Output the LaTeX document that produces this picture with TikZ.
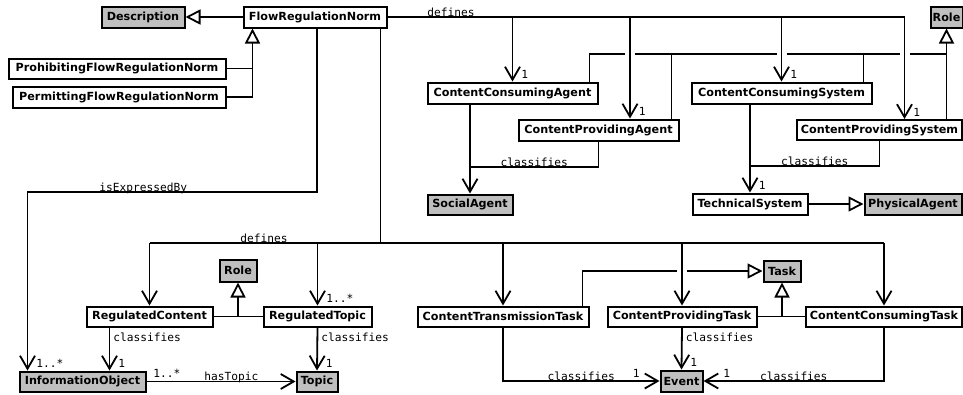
\documentclass[tikz,border=0pt]{standalone}
\usepackage{fontspec}
\setmainfont{DejaVu Sans}
\setmonofont{DejaVu Sans Mono}
\usetikzlibrary{arrows.meta}

\tikzset{
  cls/.style={draw, line width=2pt, fill=white, inner sep=0pt,
    font=\fontsize{11.2}{13}\selectfont\bfseries},
  ext/.style={cls, fill=black!25},
  sz/.style 2 args={minimum width=#1pt, minimum height=#2pt},
  conn/.style={line width=1.8pt, line join=miter},
  assoc/.style={conn, -{Straight Barb[length=13pt,width=15pt]}},
  gen/.style={conn, -{Triangle[open,length=15pt,width=15pt,fill=white]}},
  lbl/.style={font=\fontsize{11.2}{13}\selectfont\ttfamily, inner sep=0pt},
  onl/.style={lbl, anchor=base, yshift=1pt},
  side/.style={lbl, at start, anchor=north west, xshift=3pt, yshift=-5pt},
  mult/.style={lbl, at end, anchor=south west, xshift=8pt, yshift=2pt},
  knock/.style={draw=white, line width=5pt},
}

\begin{document}
\begin{tikzpicture}[x=1pt, y=-1pt]
\useasboundingbox (0,0) rectangle (963,394);

% ---- classes
\node[ext, sz={83}{21}]  (desc)  at (143,17)    {Description};
\node[cls, sz={143}{21}] (frn)   at (315,17)    {FlowRegulationNorm};
\node[cls, sz={217}{20}] (pfrn)  at (117,68.5)  {ProhibitingFlowRegulationNorm};
\node[cls, sz={213}{21}] (perm)  at (119,97)    {PermittingFlowRegulationNorm};
\node[ext, sz={32}{21}]  (role1) at (946.5,17)  {Role};

\node[cls, sz={170}{21}] (cca)   at (512.5,93)  {ContentConsumingAgent};
\node[cls, sz={180}{21}] (ccs)   at (781.5,93)  {ContentConsumingSystem};
\node[cls, sz={160}{21}] (cpa)   at (598.5,130) {ContentProvidingAgent};
\node[cls, sz={165}{20}] (cps)   at (879.5,130) {ContentProvidingSystem};
\node[ext, sz={85}{20}]  (sa)    at (470,204.5) {SocialAgent};
\node[cls, sz={115}{21}] (ts)    at (750,204)   {TechnicalSystem};
\node[ext, sz={97}{21}]  (pa)    at (913,204)   {PhysicalAgent};

\node[cls, sz={126}{20}] (rc)    at (149.5,316.5) {RegulatedContent};
\node[cls, sz={108}{20}] (rt)    at (317.5,316.5) {RegulatedTopic};
\node[ext, sz={37}{22}]  (role2) at (238,270.5)   {Role};
\node[cls, sz={171}{20}] (ctt)   at (503,316.5)   {ContentTransmissionTask};
\node[cls, sz={149}{20}] (cpt)   at (682,316.5)   {ContentProvidingTask};
\node[cls, sz={156}{20}] (cct)   at (884,316.5)   {ContentConsumingTask};
\node[ext, sz={37}{21}]  (task)  at (782,271)     {Task};
\node[ext, sz={126}{20}] (io)    at (82.5,381.5)  {InformationObject};
\node[ext, sz={41}{20}]  (topic) at (317,381.5)   {Topic};
\node[ext, sz={42}{21}]  (event) at (681.5,381)   {Event};

% ---- helper points
\coordinate (gx)   at ([xshift=10pt]frn.south west);
\coordinate (dCPA) at ([xshift=31.5pt]cpa.north);
\coordinate (dCPS) at ([xshift=25pt]cps.north);
\coordinate (rbY)  at (0,54);
\coordinate (rCCA) at ([xshift=-9pt]cca.north east);
\coordinate (rCPA) at ([xshift=-8pt]cpa.north east);
\coordinate (rCCS) at ([xshift=-9pt]ccs.north east);
\coordinate (rCPS) at (role1.south |- cps.north);
\coordinate (yA)   at (0,167);
\coordinate (yB)   at (0,166);
\coordinate (yC)   at (0,192);
\coordinate (yD)   at (0,243);
\coordinate (fS)   at ([xshift=2pt]frn.south);
\coordinate (fS2)  at ([xshift=-7pt]frn.south east);
\coordinate (ioT)  at ([xshift=9pt]io.north west);
\coordinate (rcS)  at ([xshift=-40pt]rc.south);
\coordinate (cttT) at ([xshift=-7pt]ctt.north east);

% ---- FlowRegulationNorm hierarchy
\draw[gen] (frn.west) -- (desc.east);
\draw[gen] (perm.east) -| (gx);
\draw[conn] (pfrn.east) -- (pfrn.east -| gx);

% ---- agent / system roles
\draw[conn] (rCCA) |- (role1.south |- rbY);
\draw[gen] (rCPS) -- (role1.south);
\draw[conn] (rCPA) -- (rCPA |- rbY);
\draw[conn] (rCCS) -- (rCCS |- rbY);
\coordinate (k1) at (dCPA |- rbY);
\coordinate (k2) at (ccs.north |- rbY);
\coordinate (k3) at (dCPS |- rbY);
\foreach \k in {k1,k2,k3}
  \draw[knock] ([xshift=-5pt]\k) -- ([xshift=5pt]\k);

\draw[conn] (frn.east) -- (dCPS |- frn.east) node[onl, pos=0.123] {defines};
\draw[assoc] (cca.north |- frn.east) -- (cca.north) node[mult] {1};
\draw[assoc] (dCPA |- frn.east) -- (dCPA) node[mult] {1};
\draw[assoc] (ccs.north |- frn.east) -- (ccs.north) node[mult] {1};
\draw[assoc] (dCPS |- frn.east) -- (dCPS) node[mult] {1};

\draw[assoc] (sa.north |- cca.south) -- (sa.north);
\draw[conn] (cpa.south) |- (sa.north |- yA) node[onl, pos=0.75] {classifies};
\draw[assoc] (ts.north |- ccs.south) -- (ts.north) node[mult] {1};
\draw[conn] (cps.south) |- (ts.north |- yB) node[onl, pos=0.75] {classifies};
\draw[gen] (ts.east) -- (pa.west);

% ---- information objects
\draw[assoc] (fS) |- (ioT |- yC) node[onl, pos=0.8] {isExpressedBy}
  -- (ioT) node[mult] {1..*};

% ---- tasks (drawn before the defines drops they pass under)
\draw[gen] (cttT) |- (task.west);
\coordinate (k4) at (cpt.north |- task.west);
\draw[knock] ([xshift=-5pt]k4) -- ([xshift=5pt]k4);
\draw[conn] (cpt.east) -- (cct.west);
\draw[gen] (task.south |- cpt.east) -- (task.south);

% ---- lower defines bus
\draw[conn] (fS2) -- (fS2 |- yD);
\draw[conn] (rc.north |- yD) -- (cct.north |- yD) node[onl, pos=0.156] {defines};
\draw[assoc] (rc.north |- yD) -- (rc.north);
\draw[assoc] (rt.north |- yD) -- (rt.north) node[mult] {1..*};
\draw[assoc] (ctt.north |- yD) -- (ctt.north);
\draw[assoc] (cpt.north |- yD) -- (cpt.north);
\draw[assoc] (cct.north |- yD) -- (cct.north);

% ---- regulated content / topic
\draw[conn] (rc.east) -- (rt.west);
\draw[gen] (role2.south |- rc.east) -- (role2.south);
\draw[assoc] (rcS) -- (rcS |- io.north) node[side] {classifies} node[mult] {1};
\draw[assoc] (rt.south) -- (topic.north) node[side] {classifies} node[mult] {1};
\draw[assoc] (io.east) -- (topic.west)
  node[lbl, at start, anchor=south west, xshift=6pt, yshift=3pt] {1..*}
  node[onl, pos=0.57] {hasTopic};

% ---- events
\draw[assoc] (cpt.south) -- (event.north) node[side] {classifies} node[mult] {1};
\draw[assoc] (ctt.south) |- (event.west) node[onl, pos=0.75] {classifies}
  node[lbl, at end, anchor=south east, xshift=-19pt, yshift=3pt] {1};
\draw[assoc] (cct.south) |- (event.east) node[onl, pos=0.75] {classifies}
  node[lbl, at end, anchor=south west, xshift=19pt, yshift=3pt] {1};
\end{tikzpicture}
\end{document}
